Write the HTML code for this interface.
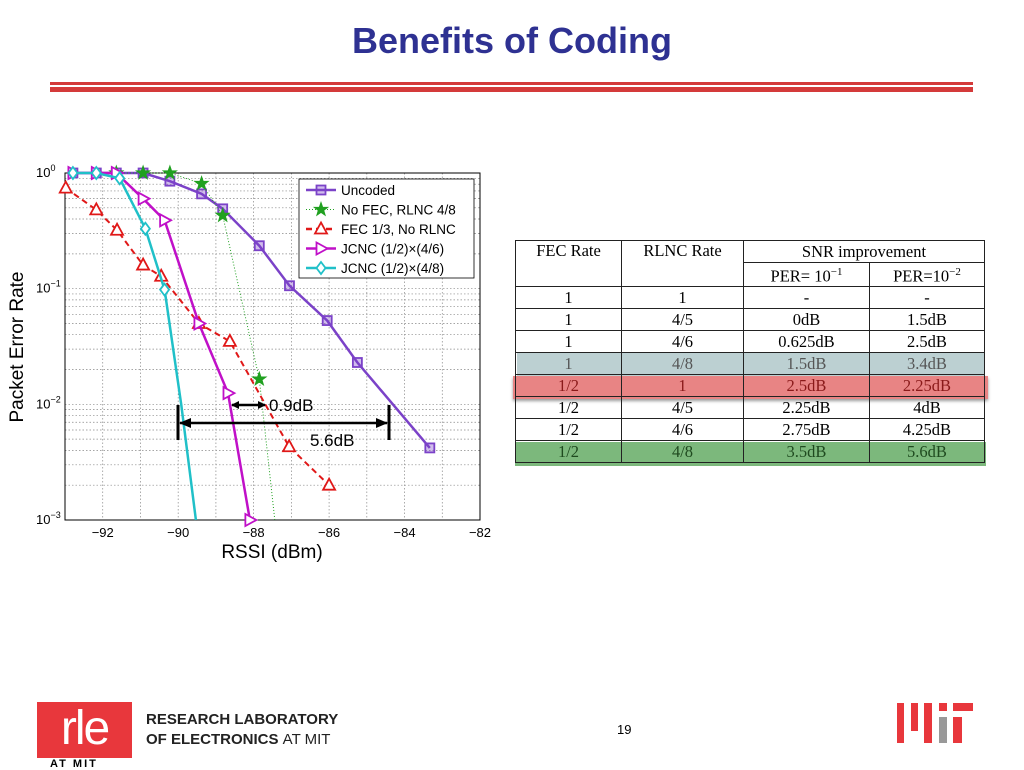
<!DOCTYPE html>
<html><head><meta charset="utf-8">
<style>
body{margin:0;width:1024px;height:768px;background:#fff;overflow:hidden;position:relative;font-family:"Liberation Sans",sans-serif}
.abs{position:absolute}
#title{left:0;width:1024px;top:20px;text-align:center;font-size:36px;font-weight:bold;color:#2e3192}
table{position:absolute;left:515px;top:240px;border-collapse:collapse;font-family:"Liberation Serif",serif;font-size:16.5px;width:470px}
td{border:1px solid #222;text-align:center;height:21px;padding:0;line-height:19px}
</style></head><body>
<div id="title" class="abs">Benefits of Coding</div>
<div class="abs" style="left:50px;top:82px;width:923px;height:3px;background:#d43a3a"></div>
<div class="abs" style="left:50px;top:87px;width:923px;height:5px;background:#d43a3a"></div>

<svg class="abs" style="left:0;top:150px" width="500" height="420">
<g id="grid"></g><g id="axes"></g><g id="series"></g><g id="legend"></g><g id="annot"></g>
</svg>

<div class="abs" style="left:513px;top:376px;width:475px;height:23px;background:#e88484;box-shadow:0 2px 3px rgba(0,0,0,0.4)"></div>
<div class="abs" style="left:517px;top:353px;width:468px;height:23px;background:#bcd0d2"></div>
<div class="abs" style="left:515px;top:442px;width:471px;height:24px;background:#7cb87c"></div>
<table>
<tr><td rowspan="2" style="vertical-align:top;width:105px">FEC Rate</td><td rowspan="2" style="vertical-align:top;width:121px">RLNC Rate</td><td colspan="2">SNR improvement</td></tr>
<tr><td style="width:125px">PER= 10<sup style="font-size:11px">−1</sup></td><td>PER=10<sup style="font-size:11px">−2</sup></td></tr>
<tr><td>1</td><td>1</td><td>-</td><td>-</td></tr>
<tr><td>1</td><td>4/5</td><td>0dB</td><td>1.5dB</td></tr>
<tr><td>1</td><td>4/6</td><td>0.625dB</td><td>2.5dB</td></tr>
<tr style="color:#555"><td>1</td><td>4/8</td><td>1.5dB</td><td>3.4dB</td></tr>
<tr style="color:#8a1a1a"><td>1/2</td><td>1</td><td>2.5dB</td><td>2.25dB</td></tr>
<tr><td>1/2</td><td>4/5</td><td>2.25dB</td><td>4dB</td></tr>
<tr><td>1/2</td><td>4/6</td><td>2.75dB</td><td>4.25dB</td></tr>
<tr style="color:#1f4a1f"><td>1/2</td><td>4/8</td><td>3.5dB</td><td>5.6dB</td></tr>
</table>

<div class="abs" style="left:37px;top:702px;width:95px;height:56px;background:#e8373c;color:#fff;font-size:48px;line-height:54px;text-align:center;letter-spacing:-2px">rle</div>
<div class="abs" style="left:50px;top:758px;font-size:11px;font-weight:bold;letter-spacing:2px">AT MIT</div>
<div class="abs" style="left:146px;top:710px;font-size:15px;font-weight:bold;line-height:20px;color:#222">RESEARCH LABORATORY<br>OF ELECTRONICS <span style="font-weight:normal">AT MIT</span></div>
<div class="abs" style="left:617px;top:722px;font-size:13px">19</div>
<div class="abs" style="left:0;top:0">
<div class="abs" style="left:897px;top:703px;width:7px;height:40px;background:#e8373c"></div>
<div class="abs" style="left:911px;top:703px;width:7px;height:28px;background:#e8373c"></div>
<div class="abs" style="left:924px;top:703px;width:8px;height:40px;background:#e8373c"></div>
<div class="abs" style="left:939px;top:703px;width:8px;height:8px;background:#e8373c"></div>
<div class="abs" style="left:939px;top:717px;width:8px;height:26px;background:#999"></div>
<div class="abs" style="left:953px;top:703px;width:20px;height:8px;background:#e8373c"></div>
<div class="abs" style="left:953px;top:717px;width:9px;height:26px;background:#e8373c"></div>
</div>

<script>
const xTicks=[-92,-90,-88,-86,-84,-82];
const yDecades=[0,-1,-2,-3];
const seriesNames=["Uncoded","No FEC, RLNC 4/8","FEC 1/3, No RLNC","JCNC (1/2)\u00d7(4/6)","JCNC (1/2)\u00d7(4/8)"];
const uncodedX=[-92.79,-92.17,-91.64,-90.93,-90.22,-89.38,-88.82,-87.85,-87.05,-86.05,-85.25,-83.33];
const uncodedY=[1,1,1,1,0.85,0.66,0.49,0.235,0.106,0.053,0.023,0.0042];
const noFecX=[-92.79,-92.17,-91.64,-90.93,-90.22,-89.38,-88.82,-87.85,-87.44];
const noFecY=[1,1,1,1,1,0.81,0.43,0.0165,0.001];
const noFecMarked=[false,false,true,true,true,true,true,true,false];
const fecX=[-92.98,-92.17,-91.62,-90.93,-90.45,-89.45,-88.63,-87.06,-86.0];
const fecY=[0.74,0.48,0.32,0.16,0.128,0.05,0.035,0.0043,0.002];
const j46X=[-92.79,-92.17,-91.64,-90.93,-90.36,-89.45,-88.68,-88.10];
const j46Y=[1,1,1,0.6,0.39,0.05,0.0125,0.001];
const j48X=[-92.79,-92.17,-91.55,-90.87,-90.36,-89.92,-89.53];
const j48Y=[1,1,0.9,0.33,0.098,0.01,0.001];
const j48Marked=[true,true,true,true,true,false,false];

const NS="http://www.w3.org/2000/svg";
const X0=65,X1=480,Y0=23,Y1=370,xmin=-93,xmax=-82;
const sx=v=>X0+(v-xmin)/(xmax-xmin)*(X1-X0);
const sy=v=>Y0+(-Math.log10(v))/3*(Y1-Y0);
function mk(parent,tag,attrs){const e=document.createElementNS(NS,tag);for(const k in attrs)e.setAttribute(k,attrs[k]);document.getElementById(parent).appendChild(e);return e;}

for(let d=0;d<3;d++){for(let m=1;m<10;m++){const v=m*Math.pow(10,-d-1);const y=sy(v);
 const g=mk('grid','line',{x1:X0,x2:X1,y1:y,y2:y,stroke:'#888','stroke-width':0.7,'stroke-dasharray':'1.5,2'});
 
 }}
for(let t=-93;t<=-82;t++){const x=sx(t);
 const g=mk('grid','line',{x1:x,x2:x,y1:Y0,y2:Y1,stroke:'#888','stroke-width':0.7,'stroke-dasharray':'1.5,2'});
 
 }
const frame=mk('axes','rect',{x:X0,y:Y0,width:X1-X0,height:Y1-Y0,fill:'none',stroke:'#000','stroke-width':1});


xTicks.forEach(t=>{const x=sx(t);
 const tl=mk('axes','text',{x:x,y:Y1+17,'text-anchor':'middle','font-size':13,'font-family':'Liberation Sans, sans-serif'});
 tl.textContent='\u2212'+Math.abs(t);
 
 });
yDecades.forEach(d=>{const y=sy(Math.pow(10,d));
 const tl=mk('axes','text',{x:36,y:y+4,'font-size':13,'font-family':'Liberation Sans, sans-serif'});
 tl.innerHTML='10<tspan dy="-6" font-size="9">'+(d===0?'0':'\u2212'+Math.abs(d))+'</tspan>';
 
 });
const xt=mk('axes','text',{x:272,y:408,'text-anchor':'middle','font-size':19,'font-family':'Liberation Sans, sans-serif'});
xt.textContent='RSSI (dBm)';


const yt=mk('axes','text',{x:0,y:0,'text-anchor':'middle','font-size':19,'font-family':'Liberation Sans, sans-serif',transform:'translate(23,197) rotate(-90)'});
yt.textContent='Packet Error Rate';



function marker(g,type,x,y,color){
 let e;
 if(type==='sq')e=mk(g,'rect',{x:x-4.5,y:y-4.5,width:9,height:9,fill:color,'fill-opacity':0.35,stroke:color,'stroke-width':1.8});
 else if(type==='star'){let p=[];for(let i=0;i<10;i++){const r=i%2?2.8:7;const a=-Math.PI/2+i*Math.PI/5;p.push((x+r*Math.cos(a)).toFixed(1)+','+(y+r*Math.sin(a)).toFixed(1));}
  e=mk(g,'polygon',{points:p.join(' '),fill:color,stroke:color});}
 else if(type==='tri')e=mk(g,'polygon',{points:`${x},${y-6.5} ${x-6},${y+4.5} ${x+6},${y+4.5}`,fill:'#fff',stroke:color,'stroke-width':1.8});
 else if(type==='rtri')e=mk(g,'polygon',{points:`${x+6.5},${y} ${x-4.5},${y-6} ${x-4.5},${y+6}`,fill:'#fff',stroke:color,'stroke-width':1.8});
 else e=mk(g,'polygon',{points:`${x},${y-6} ${x+4.5},${y} ${x},${y+6} ${x-4.5},${y}`,fill:'#fff',stroke:color,'stroke-width':1.8});
 
 
}
function series(name,xs,ys,color,dash,w,mtype,marked){
 const pts=xs.map((x,i)=>sx(x).toFixed(1)+','+sy(ys[i]).toFixed(1)).join(' ');
 const l=mk('series','polyline',{points:pts,fill:'none',stroke:color,'stroke-width':w,'stroke-dasharray':dash});
 
 
 xs.forEach((x,i)=>{if(!marked||marked[i])marker('series',mtype,sx(x),sy(ys[i]),color);});
}
series('uncoded-line',uncodedX,uncodedY,'#7b42c8','',2.5,'sq',null);
series('no-fec-line',noFecX,noFecY,'#20a020','1,2',1,'star',noFecMarked);
series('fec-line',fecX,fecY,'#e01818','6,4',2,'tri',null);
series('jcnc-46-line',j46X,j46Y,'#c010c8','',2.5,'rtri',null);
series('jcnc-48-line',j48X,j48Y,'#20c0c8','',2.5,'dia',j48Marked);

const lb=mk('legend','rect',{x:299,y:29,width:175,height:99,fill:'#fff',stroke:'#000','stroke-width':0.8});


const lc=['#7b42c8','#20a020','#e01818','#c010c8','#20c0c8'];
const ld=['','1,2','6,4','',''];
const lm=['sq','star','tri','rtri','dia'];
seriesNames.forEach((n,i)=>{const y=40+i*19.5;
 const ll=mk('legend','line',{x1:306,x2:336,y1:y,y2:y,stroke:lc[i],'stroke-width':i===1?1:2.5,'stroke-dasharray':ld[i]});
 
 
 marker('legend',lm[i],321,y,lc[i]);
 const t=mk('legend','text',{x:341,y:y+5,'font-size':13.5,'font-family':'Liberation Sans, sans-serif'});
 t.textContent=n;
 
 });

const A=document.getElementById('annot');
A.innerHTML=`<defs><marker id="ah" markerUnits="userSpaceOnUse" markerWidth="12" markerHeight="10" refX="11" refY="5" orient="auto-start-reverse"><path d="M0,0 L12,5 L0,10 z" fill="#000"/></marker><marker id="ahs" markerUnits="userSpaceOnUse" markerWidth="8" markerHeight="8" refX="7" refY="4" orient="auto-start-reverse"><path d="M0,0 L8,4 L0,8 z" fill="#000"/></marker></defs>
<line x1="232" y1="255" x2="265" y2="255" stroke="#000" stroke-width="2.5" marker-start="url(#ahs)" marker-end="url(#ahs)"/>
<text x="269" y="261" font-size="17" font-family="Liberation Sans, sans-serif">0.9dB</text>
<line x1="178" y1="255" x2="178" y2="290" stroke="#000" stroke-width="3"/>
<line x1="389" y1="255" x2="389" y2="290" stroke="#000" stroke-width="3"/>
<line x1="180" y1="273" x2="387" y2="273" stroke="#000" stroke-width="2.5" marker-start="url(#ah)" marker-end="url(#ah)"/>
<text x="310" y="296" font-size="17" font-family="Liberation Sans, sans-serif">5.6dB</text>`;
</script>
</body></html>
